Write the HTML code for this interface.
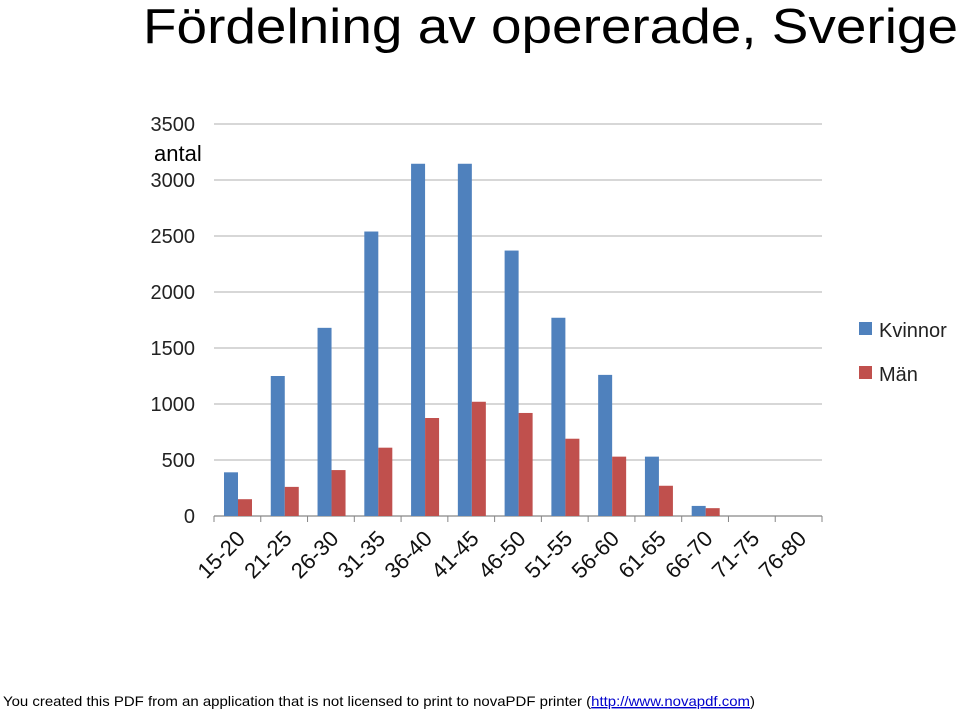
<!DOCTYPE html>
<html><head><meta charset="utf-8"><style>
body{margin:0;background:#fff;width:960px;height:713px;overflow:hidden;font-family:"Liberation Sans",sans-serif}
</style></head><body>
<svg width="960" height="713">
<text x="143" y="43" font-size="49" fill="#000" textLength="815" lengthAdjust="spacingAndGlyphs">Fördelning av opererade, Sverige</text>
<g id="grid"></g><g id="bars"></g><g id="labels"></g>
<text x="154" y="161" font-size="22" fill="#000">antal</text>
<rect x="859" y="322" width="13" height="13" fill="#4f81bd"/>
<text x="879" y="337" font-size="20" fill="#222">Kvinnor</text>
<rect x="859" y="366" width="13" height="13" fill="#c0504d"/>
<text x="879" y="381" font-size="20" fill="#222">Män</text>
<text x="3" y="706" font-size="14" fill="#000" textLength="752" lengthAdjust="spacingAndGlyphs">You created this PDF from an application that is not licensed to print to novaPDF printer (<tspan fill="#0000cc" text-decoration="underline">http://www.novapdf.com</tspan>)</text>
</svg>
<script>
const categories=["15-20","21-25","26-30","31-35","36-40","41-45","46-50","51-55","56-60","61-65","66-70","71-75","76-80"];
const kvinnor=[390,1250,1680,2540,3145,3145,2370,1770,1260,530,90,0,0];
const man=[150,260,410,610,875,1020,920,690,530,270,70,0,0];
const yTicks=[0,500,1000,1500,2000,2500,3000,3500];
const NS="http://www.w3.org/2000/svg";
const x0=214,x1=822,y0=516,yTop=124,yMax=3500;
const cw=(x1-x0)/categories.length;
const y=v=>y0-(v/yMax)*(y0-yTop);
function mk(t,a,p){const e=document.createElementNS(NS,t);for(const k in a)e.setAttribute(k,a[k]);p.appendChild(e);return e;}
const g=document.getElementById('grid'),b=document.getElementById('bars'),l=document.getElementById('labels');
yTicks.forEach(v=>{
 const ln=mk('line',{x1:x0,x2:x1,y1:y(v),y2:y(v),stroke:v?'#bfbfbf':'#868686','stroke-width':1.3},g);
 
 
 const t=mk('text',{x:195,y:y(v)+7,'text-anchor':'end','font-size':20,fill:'#222'},g);
 t.textContent=v;
 
 
});
for(let i=0;i<=categories.length;i++){
 const tk=mk('line',{x1:x0+i*cw,x2:x0+i*cw,y1:y0,y2:y0+6,stroke:'#868686'},g);
 
 
}
categories.forEach((c,i)=>{
 const cx=x0+i*cw;
 const r1=mk('rect',{x:cx+10,y:y(kvinnor[i]),width:14,height:y0-y(kvinnor[i]),fill:'#4f81bd'},b);
 
 
 const r2=mk('rect',{x:cx+24,y:y(man[i]),width:14,height:y0-y(man[i]),fill:'#c0504d'},b);
 
 
 const lx=cx+cw/2+9,ly=540;
 const t=mk('text',{x:lx,y:ly,'text-anchor':'end','font-size':22,fill:'#111',transform:`rotate(-45 ${lx} ${ly})`},l);
 t.textContent=c;
 
 
});
</script>
</body></html>
